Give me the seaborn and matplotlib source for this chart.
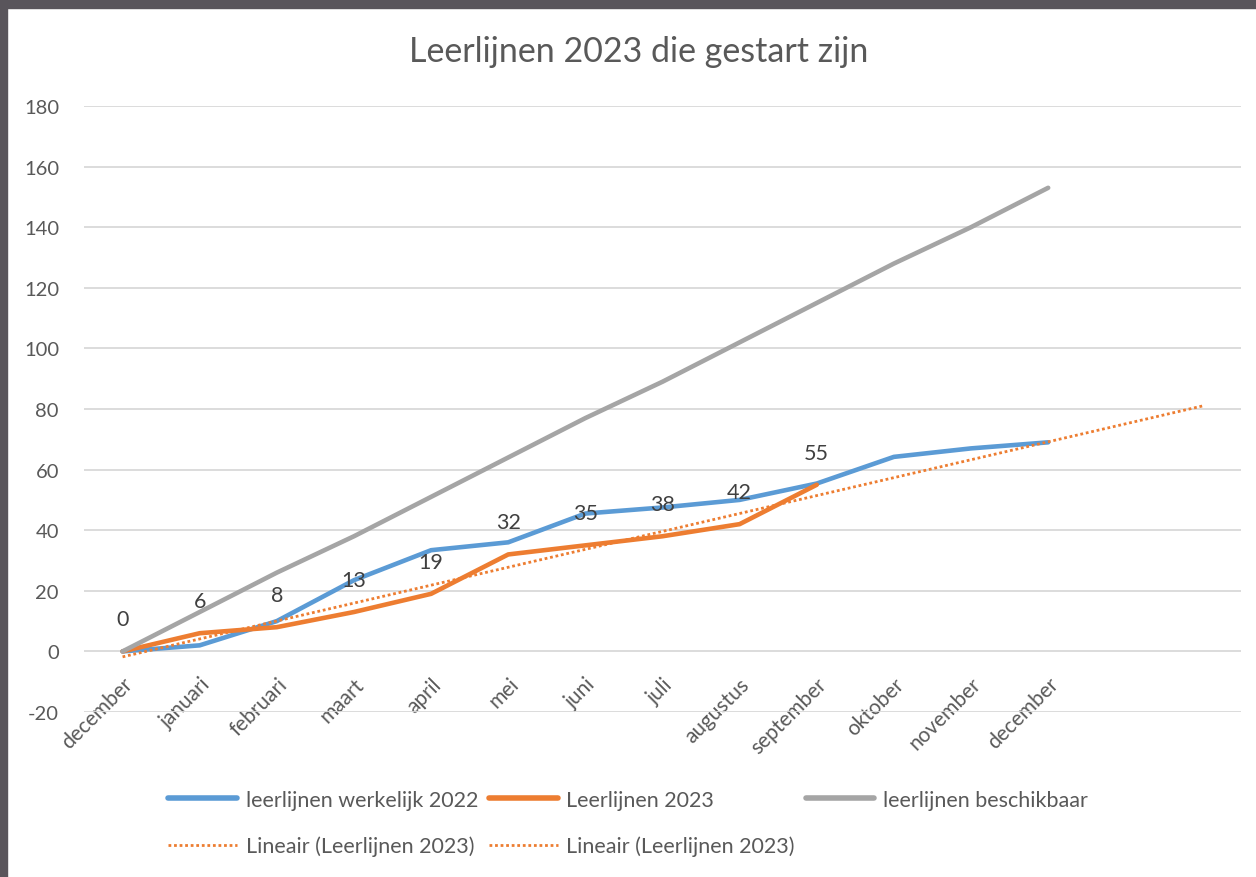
import numpy as np
import pandas as pd
import matplotlib
matplotlib.use("Agg")
import matplotlib.pyplot as plt
import seaborn as sns
from matplotlib.patches import Rectangle

# categorie-as (laatste twee posities leeg, voor de trendlijn-prognose)
months = ['december', 'januari', 'februari', 'maart', 'april', 'mei', 'juni', 'juli',
          'augustus', 'september', 'oktober', 'november', 'december', '', '']

werkelijk_2022 = [0, 2, 10, 23.5, 33.4, 36, 45.5, 47.5, 50, 55.4, 64.2, 67, 69]
leerlijnen_2023 = [0, 6, 8, 13, 19, 32, 35, 38, 42, 55]
beschikbaar = [0, 13, 26, 38, 51, 64, 77, 89, 102, 115, 128, 140, 153]

trend_x = [0, 14]
trend_y = [-1.8, 81]

yticks = [-20, 0, 20, 40, 60, 80, 100, 120, 140, 160, 180]

BLUE = '#5B9BD5'
ORANGE = '#ED7D31'
GRAY = '#A5A5A5'
TXT = '#595959'

sns.set_theme(style="white")
plt.rcParams['font.family'] = ['Lato', 'DejaVu Sans']
plt.rcParams['axes.unicode_minus'] = False

fig = plt.figure(figsize=(12.56, 8.78), dpi=100)
ax = fig.add_axes([84 / 1256, 1 - 713 / 878, (1241 - 84) / 1256, (713 - 107) / 878])

df_blue = pd.DataFrame({'x': range(len(werkelijk_2022)), 'y': werkelijk_2022})
df_orange = pd.DataFrame({'x': range(len(leerlijnen_2023)), 'y': leerlijnen_2023})
df_gray = pd.DataFrame({'x': range(len(beschikbaar)), 'y': beschikbaar})
df_trend = pd.DataFrame({'x': trend_x, 'y': trend_y})

sns.lineplot(data=df_blue, x='x', y='y', ax=ax, color=BLUE, lw=3.3, zorder=3)
sns.lineplot(data=df_orange, x='x', y='y', ax=ax, color=ORANGE, lw=3.3, zorder=4)
sns.lineplot(data=df_gray, x='x', y='y', ax=ax, color=GRAY, lw=3.3, zorder=5)
sns.lineplot(data=df_trend, x='x', y='y', ax=ax, color=ORANGE, lw=2.0,
             linestyle=(0, (1, 1)), zorder=6)

# datalabels bij Leerlijnen 2023
for i, v in enumerate(leerlijnen_2023):
    ax.annotate(f"{v}", (i, v), xytext=(0, 23), textcoords='offset points',
                ha='center', va='center', fontsize=15.5, color='#404040', zorder=7)

# x-as kruist bij 0 (spine eerst verplaatsen, anders worden ticks gereset)
ax.spines['bottom'].set_position(('data', 0))
for s in ax.spines.values():
    s.set_visible(False)
ax.set_xlim(-0.5, len(months) - 0.5)
ax.set_ylim(-20, 180)
ax.set_yticks(yticks)
ax.set_xticks(range(len(months)))
ax.set_xticklabels(months, rotation=45, ha='right', rotation_mode='anchor')
ax.grid(axis='y', color='#D9D9D9', lw=1.3)
ax.set_axisbelow(True)
ax.tick_params(axis='y', length=0, pad=18, labelsize=14.5, labelcolor=TXT)
ax.tick_params(axis='x', length=0, pad=16, labelsize=15, labelcolor=TXT)
ax.set_xlabel('')
ax.set_ylabel('')

fig.text(639 / 1256, 1 - 52 / 878, 'Leerlijnen 2023 die gestart zijn',
         ha='center', va='center', fontsize=24.5, color=TXT)

# legenda: volgorde zodat rij 1 = drie series, rij 2 = twee trendlijnen
h_blue = plt.Line2D([], [], color=BLUE, lw=4)
h_orange = plt.Line2D([], [], color=ORANGE, lw=4)
h_gray = plt.Line2D([], [], color=GRAY, lw=4)
h_trend = plt.Line2D([], [], color=ORANGE, lw=2, linestyle=(0, (1, 1)))
fig.legend([h_blue, h_trend, h_orange, h_trend, h_gray],
           ['leerlijnen werkelijk 2022', 'Lineair (Leerlijnen 2023)', 'Leerlijnen 2023',
            'Lineair (Leerlijnen 2023)', 'leerlijnen beschikbaar'],
           ncol=3, loc='center', bbox_to_anchor=(0.5, 1 - 824 / 878), frameon=False,
           fontsize=15.5, labelcolor=TXT, handlelength=3.2, handletextpad=0.4,
           columnspacing=0.5, labelspacing=1.2)

# donkere schermrand boven en links
fig.patches.append(Rectangle((0, 1 - 9 / 878), 1, 9 / 878, transform=fig.transFigure,
                             color='#59555B', zorder=10))
fig.patches.append(Rectangle((0, 0), 7 / 1256, 1, transform=fig.transFigure,
                             color='#59555B', zorder=10))

fig.savefig('out.png', dpi=100)
